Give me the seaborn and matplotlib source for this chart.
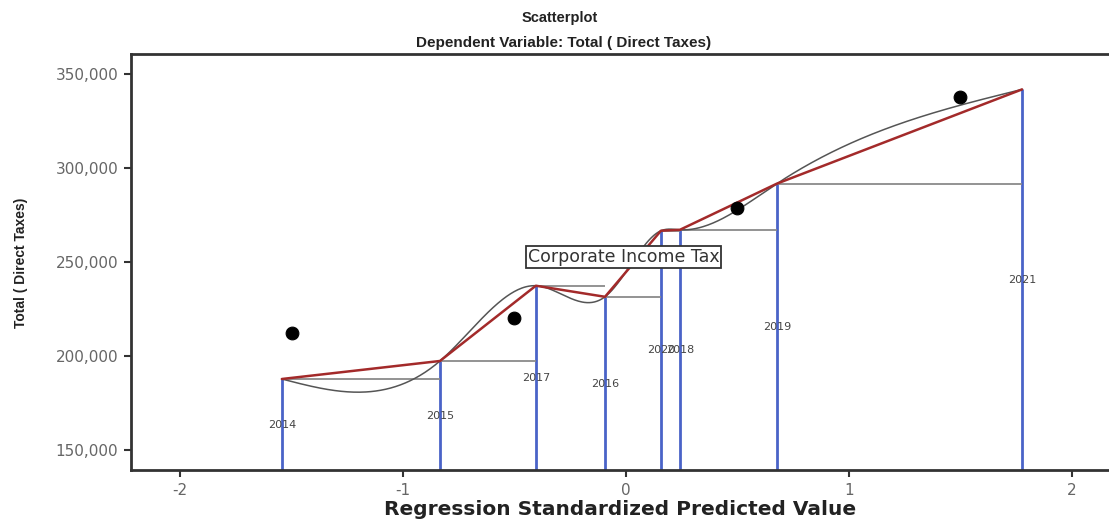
import numpy as np
import pandas as pd
import matplotlib
matplotlib.use("Agg")
import matplotlib.pyplot as plt
import seaborn as sns
from matplotlib.ticker import FuncFormatter

# Yearly totals of direct taxes against the regression's standardized predicted value
years = ["2014", "2015", "2017", "2016", "2020", "2018", "2019", "2021"]
predicted = [-1.543, -0.834, -0.404, -0.094, 0.157, 0.242, 0.677, 1.776]
total_tax = [187600, 197200, 237300, 231400, 266600, 267100, 291700, 341900]

# Observed scatter points
dot_x = [-1.498, -0.502, 0.498, 1.498]
dot_y = [212100, 220100, 278900, 337700]

x_ticks = [-2, -1, 0, 1, 2]
y_ticks = [150000, 200000, 250000, 300000, 350000]
annotation = "Corporate Income Tax"

sns.set_theme(style="white")
plt.rcParams["font.family"] = ["DejaVu Sans"]

df = pd.DataFrame({"year": years, "x": predicted, "y": total_tax}).sort_values("x")
dots = pd.DataFrame({"x": dot_x, "y": dot_y})

x_min, x_max = -2.22, 2.166
y_min, y_max = 139000, 360500


def natural_spline(xs, ys, n=600):
    xs = np.asarray(xs, float)
    ys = np.asarray(ys, float)
    k = len(xs)
    h = np.diff(xs)
    A = np.zeros((k, k))
    b = np.zeros(k)
    A[0, 0] = A[-1, -1] = 1.0
    for i in range(1, k - 1):
        A[i, i - 1] = h[i - 1]
        A[i, i] = 2 * (h[i - 1] + h[i])
        A[i, i + 1] = h[i]
        b[i] = 6 * ((ys[i + 1] - ys[i]) / h[i] - (ys[i] - ys[i - 1]) / h[i - 1])
    m = np.linalg.solve(A, b)
    xx = np.linspace(xs[0], xs[-1], n)
    idx = np.clip(np.searchsorted(xs, xx) - 1, 0, k - 2)
    x0, x1 = xs[idx], xs[idx + 1]
    hh = x1 - x0
    t0, t1 = x1 - xx, xx - x0
    yy = (m[idx] * t0 ** 3 / (6 * hh) + m[idx + 1] * t1 ** 3 / (6 * hh)
          + (ys[idx] / hh - m[idx] * hh / 6) * t0
          + (ys[idx + 1] / hh - m[idx + 1] * hh / 6) * t1)
    return xx, yy


fig = plt.figure(figsize=(11.09, 5.19), dpi=100)
ax = fig.add_axes([0.118, 0.094, 0.882, 0.801])

# Drop lines from each year down to the axis
ax.vlines(df["x"], y_min, df["y"], color="#4a63c8", lw=2.0, zorder=2)

# Step lines carrying each value across to the next year
xs = df["x"].to_numpy()
ys = df["y"].to_numpy()
ax.hlines(ys[:-1], xs[:-1], xs[1:], color="#8a8a8a", lw=1.3, zorder=2)

# Smooth spline through the yearly totals
sx, sy = natural_spline(xs, ys)
ax.plot(sx, sy, color="#555555", lw=1.1, zorder=3)

# Straight segments between the yearly totals
sns.lineplot(data=df, x="x", y="y", sort=True, color="#a32a2a", lw=1.8, ax=ax, zorder=4)

# Observed points
sns.scatterplot(data=dots, x="x", y="y", color="black", s=85, marker="o",
                edgecolor="black", ax=ax, zorder=5)

# Year labels halfway down each drop line
for _, r in df.iterrows():
    ax.text(r["x"], (r["y"] + y_min) / 2, r["year"], ha="center", va="center",
            fontsize=8, color="#444444", zorder=6)

ax.text(-0.01, 252700, annotation, ha="center", va="center", fontsize=12.5,
        color="#333333", zorder=6,
        bbox=dict(boxstyle="square,pad=0.1", fc="white", ec="#333333", lw=1.3))

ax.set_xlim(x_min, x_max)
ax.set_ylim(y_min, y_max)
ax.set_xticks(x_ticks)
ax.set_yticks(y_ticks)
ax.xaxis.set_major_formatter(FuncFormatter(lambda v, p: f"{int(round(v))}"))
ax.yaxis.set_major_formatter(FuncFormatter(lambda v, p: f"{int(v):,}"))
ax.tick_params(axis="both", which="major", direction="out", length=5, width=1.5,
               color="#333333", labelcolor="#666666", labelsize=11, pad=4,
               bottom=True, left=True)

for side in ["left", "bottom", "top"]:
    ax.spines[side].set_color("#333333")
    ax.spines[side].set_linewidth(2.0)
ax.spines["right"].set_visible(False)

ax.set_xlabel("Regression Standardized Predicted Value", fontsize=14.5,
              fontweight="bold", color="#222222", labelpad=2)
ax.set_ylabel("Total ( Direct Taxes)", fontsize=10, fontweight="bold",
              color="#222222", family=["Liberation Sans"], labelpad=20)

fig.text(0.505, 0.965, "Scatterplot", ha="center", va="center", fontsize=10.5,
         fontweight="bold", color="#222222", family=["Liberation Sans"])
fig.text(0.508, 0.917, "Dependent Variable: Total ( Direct Taxes)", ha="center",
         va="center", fontsize=11, fontweight="bold", color="#222222",
         family=["Liberation Sans"])

fig.savefig("out.png", dpi=100)
